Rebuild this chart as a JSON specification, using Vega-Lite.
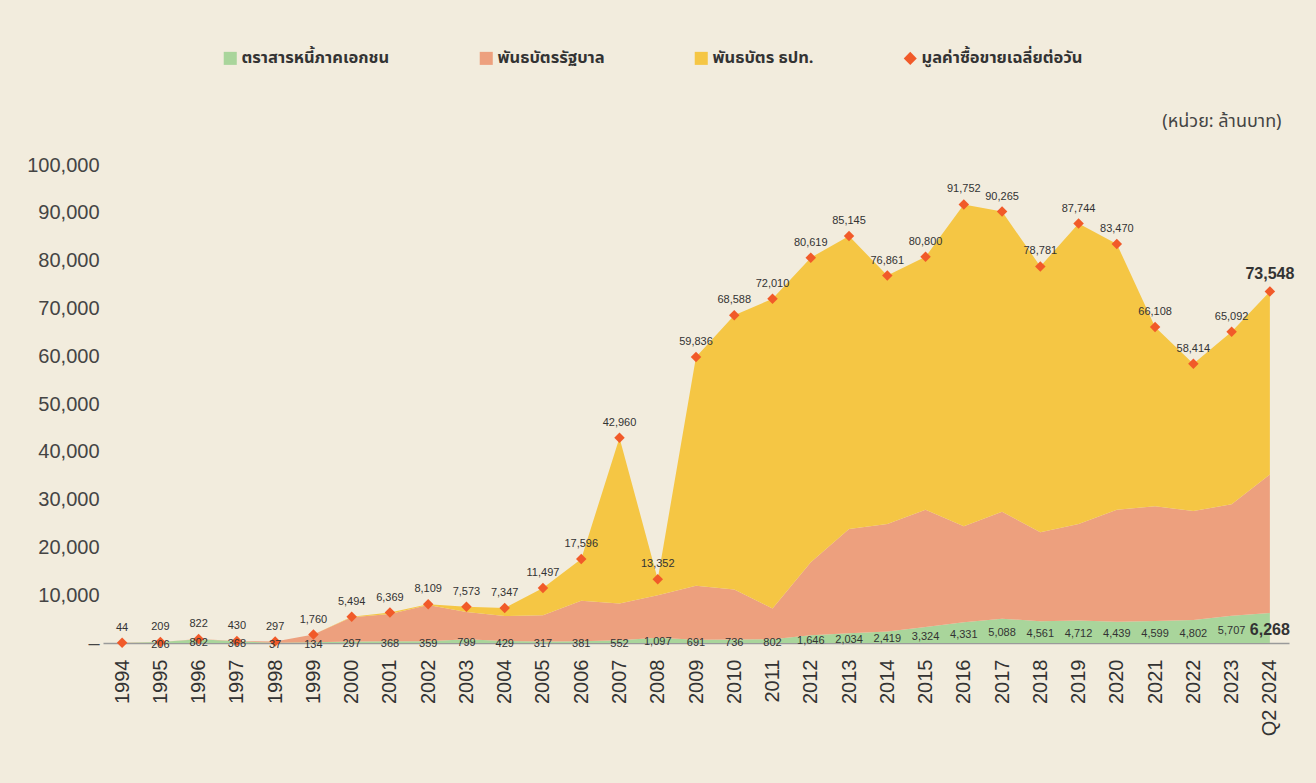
{
  "$schema": "https://vega.github.io/schema/vega-lite/v6.json",
  "width": 1186,
  "height": 478,
  "autosize": {"type": "none"},
  "padding": {"left": 103, "top": 165, "right": 27, "bottom": 140},
  "background": "#F2ECDD",
  "config": {"view": {"stroke": null}},
  "data": {
    "values": [
      {"year": "1994", "private": 0, "govt": 44, "bot": 0, "total": 44},
      {"year": "1995", "private": 206, "govt": 3, "bot": 0, "total": 209},
      {"year": "1996", "private": 802, "govt": 20, "bot": 0, "total": 822},
      {"year": "1997", "private": 368, "govt": 62, "bot": 0, "total": 430},
      {"year": "1998", "private": 37, "govt": 260, "bot": 0, "total": 297},
      {"year": "1999", "private": 134, "govt": 1626, "bot": 0, "total": 1760},
      {"year": "2000", "private": 297, "govt": 5100, "bot": 97, "total": 5494},
      {"year": "2001", "private": 368, "govt": 5700, "bot": 301, "total": 6369},
      {"year": "2002", "private": 359, "govt": 7600, "bot": 150, "total": 8109},
      {"year": "2003", "private": 799, "govt": 5670, "bot": 1104, "total": 7573},
      {"year": "2004", "private": 429, "govt": 5220, "bot": 1698, "total": 7347},
      {"year": "2005", "private": 317, "govt": 5500, "bot": 5680, "total": 11497},
      {"year": "2006", "private": 381, "govt": 8460, "bot": 8755, "total": 17596},
      {"year": "2007", "private": 552, "govt": 7730, "bot": 34678, "total": 42960},
      {"year": "2008", "private": 1097, "govt": 8900, "bot": 3355, "total": 13352},
      {"year": "2009", "private": 691, "govt": 11300, "bot": 47845, "total": 59836},
      {"year": "2010", "private": 736, "govt": 10450, "bot": 57402, "total": 68588},
      {"year": "2011", "private": 802, "govt": 6400, "bot": 64808, "total": 72010},
      {"year": "2012", "private": 1646, "govt": 15260, "bot": 63713, "total": 80619},
      {"year": "2013", "private": 2034, "govt": 21790, "bot": 61321, "total": 85145},
      {"year": "2014", "private": 2419, "govt": 22470, "bot": 51972, "total": 76861},
      {"year": "2015", "private": 3324, "govt": 24560, "bot": 52916, "total": 80800},
      {"year": "2016", "private": 4331, "govt": 20070, "bot": 67351, "total": 91752},
      {"year": "2017", "private": 5088, "govt": 22370, "bot": 62807, "total": 90265},
      {"year": "2018", "private": 4561, "govt": 18620, "bot": 55600, "total": 78781},
      {"year": "2019", "private": 4712, "govt": 20180, "bot": 62852, "total": 87744},
      {"year": "2020", "private": 4439, "govt": 23440, "bot": 55591, "total": 83470},
      {"year": "2021", "private": 4599, "govt": 24010, "bot": 37499, "total": 66108},
      {"year": "2022", "private": 4802, "govt": 22800, "bot": 30812, "total": 58414},
      {"year": "2023", "private": 5707, "govt": 23330, "bot": 36055, "total": 65092},
      {"year": "Q2 2024", "private": 6268, "govt": 28980, "bot": 38300, "total": 73548}
    ]
  },
  "encoding": {
    "x": {
      "field": "year",
      "type": "ordinal",
      "sort": null,
      "scale": {"type": "point", "padding": 0.5},
      "axis": {
        "title": null,
        "labelAngle": -90,
        "labelAlign": "right",
        "labelBaseline": "middle",
        "labelFontSize": 20,
        "labelFont": "Liberation Sans",
        "labelColor": "#333333",
        "labelPadding": 16,
        "ticks": false,
        "domainColor": "#9A9A9A",
        "domainWidth": 1.5,
        "grid": false
      }
    }
  },
  "layer": [
    {
      "layer": [
        {
          "transform": [{"fold": ["private", "govt", "bot"], "as": ["series", "value"]}],
          "mark": {"type": "area", "opacity": 1, "strokeWidth": 0},
          "encoding": {
            "y": {
              "field": "value",
              "type": "quantitative",
              "stack": "zero",
              "scale": {"domain": [0, 100000], "nice": false},
              "axis": {
                "title": "(หน่วย: ล้านบาท)",
                "titleAngle": 0,
                "titleX": 1178,
                "titleY": -44,
                "titleAlign": "right",
                "titleBaseline": "middle",
                "titleFontSize": 18,
                "titleFontWeight": "normal",
                "titleFont": "Noto Sans Thai, Noto Sans, sans-serif",
                "titleColor": "#444444",
                "values": [0, 10000, 20000, 30000, 40000, 50000, 60000, 70000, 80000, 90000, 100000],
                "labelExpr": "datum.value == 0 ? '–' : format(datum.value, ',')",
                "labelFontSize": 20,
                "labelFont": "Liberation Sans",
                "labelColor": "#444444",
                "labelPadding": 4,
                "ticks": false,
                "domain": false,
                "grid": false
              }
            },
            "color": {
              "field": "series",
              "type": "nominal",
              "scale": {
                "domain": ["private", "govt", "bot", "avg"],
                "range": ["#A9D59B", "#EDA07E", "#F5C644", "#F15A29"]
              },
              "legend": {
                "orient": "none",
                "legendX": 119,
                "legendY": -115,
                "direction": "horizontal",
                "title": null,
                "labelExpr": "datum.value == 'private' ? 'ตราสารหนี้ภาคเอกชน' : datum.value == 'govt' ? 'พันธบัตรรัฐบาล' : datum.value == 'bot' ? 'พันธบัตร ธปท.' : 'มูลค่าซื้อขายเฉลี่ยต่อวัน'",
                "labelLimit": 400,
                "symbolType": {"expr": "datum.value == 'avg' ? 'diamond' : 'square'"},
                "symbolSize": 170,
                "symbolStrokeWidth": 0,
                "symbolOpacity": 1,
                "labelFont": "Noto Sans Thai, Noto Sans, sans-serif",
                "labelFontSize": 16.5,
                "labelFontWeight": "bold",
                "labelColor": "#333333",
                "labelOffset": 3,
                "columnPadding": 88
              }
            }
          }
        },
        {
          "mark": {"type": "point", "shape": "diamond", "filled": true, "size": 110, "opacity": 1},
          "encoding": {
            "y": {"field": "total", "type": "quantitative"},
            "color": {"datum": "avg"}
          }
        },
        {
          "transform": [{"filter": "datum.year != 'Q2 2024'"}],
          "mark": {"type": "text", "dy": -15, "fontSize": 11, "font": "Liberation Sans", "color": "#333333"},
          "encoding": {
            "y": {"field": "total", "type": "quantitative"},
            "text": {"field": "total", "type": "quantitative", "format": ","}
          }
        },
        {
          "transform": [{"filter": "datum.year == 'Q2 2024'"}],
          "mark": {"type": "text", "dy": -17, "fontSize": 16, "fontWeight": "bold", "font": "Liberation Sans", "color": "#333333"},
          "encoding": {
            "y": {"field": "total", "type": "quantitative"},
            "text": {"field": "total", "type": "quantitative", "format": ","}
          }
        }
      ]
    },
    {
      "encoding": {
        "y": {"field": "private", "type": "quantitative", "scale": {"domain": [0, 200000], "nice": false}, "axis": null}
      },
      "layer": [
        {
          "transform": [{"filter": "datum.private > 0 && datum.year != 'Q2 2024'"}],
          "mark": {"type": "text", "dy": 2, "fontSize": 11, "font": "Liberation Sans", "color": "#333333"},
          "encoding": {"text": {"field": "private", "type": "quantitative", "format": ","}}
        },
        {
          "transform": [{"filter": "datum.year == 'Q2 2024'"}],
          "mark": {"type": "text", "dy": 2, "fontSize": 16, "fontWeight": "bold", "font": "Liberation Sans", "color": "#333333"},
          "encoding": {"text": {"field": "private", "type": "quantitative", "format": ","}}
        }
      ]
    }
  ],
  "resolve": {"scale": {"y": "independent"}}
}
